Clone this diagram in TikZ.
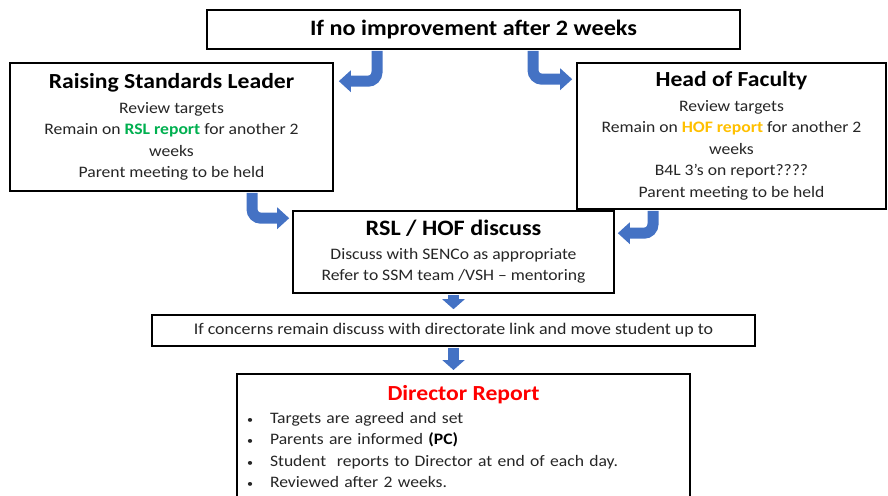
\documentclass[tikz,border=0pt]{standalone}
\usepackage{fontspec}
\setmainfont{Carlito}[FakeStretch=1.1]
\usetikzlibrary{arrows.meta}
\definecolor{flowblue}{RGB}{68,114,196}
\definecolor{rslgreen}{RGB}{0,176,80}
\definecolor{hofamber}{RGB}{255,192,0}
\definecolor{dirred}{RGB}{255,0,0}
\newcommand{\bodysize}{\fontsize{16}{21.5}\selectfont}
\newcommand{\headsize}{\fontsize{21.5}{22}\selectfont}
\newcommand{\bigsize}{\fontsize{22}{24}\selectfont}
\newcommand{\dirbullet}[1]{\makebox[\linewidth][l]{\hspace{10pt}{\fontsize{11}{11}\selectfont\textbullet}\hspace{17pt}#1}}

\begin{document}
\begin{tikzpicture}[x=1pt, y=-1pt,
    every node/.style={font=\bodysize, text=black!85},
    stagebox/.style={draw=black, line width=1.6pt, fill=white, align=center, inner sep=0pt},
    bendarrow/.style={draw=flowblue, line width=11pt, rounded corners=9pt, -{Triangle[length=12pt, width=21pt]}},
    downarrow/.style={draw=flowblue, line width=11pt, -{Triangle[length=10pt, width=22pt]}}]

  \useasboundingbox (0,0) rectangle (888,495);
  \clip (0,0) rectangle (888,495);

  % trigger at the top
  \node[stagebox, minimum width=533pt, minimum height=39pt] (trigger) at (473.5,29.5)
    {\fontsize{22}{24}\selectfont\bfseries\color{black}If no improvement after 2 weeks};

  % the two report routes
  \node[stagebox, minimum width=323pt, minimum height=128pt] (rsl) at (171.5,127)
    {{\headsize\bfseries\color{black}Raising Standards Leader}\\[3pt]
     Review targets\\
     Remain on {\bfseries\color{rslgreen}RSL report} for another 2\\
     weeks\\
     Parent meeting to be held};
  \node[stagebox, minimum width=309pt, minimum height=146pt] (hof) at (731.5,136)
    {{\headsize\bfseries\color{black}Head of Faculty}\\[3pt]
     Review targets\\
     Remain on {\bfseries\color{hofamber}HOF report} for another 2\\
     weeks\\
     B4L 3’s on report????\\
     Parent meeting to be held};

  % joint discussion
  \node[stagebox, minimum width=321pt, minimum height=82pt] (disc) at (453.5,252)
    {{\bigsize\bfseries\color{black}RSL / HOF discuss}\\[2pt]
     Discuss with SENCo as appropriate\\
     Refer to SSM team /VSH -- mentoring};
  \node[stagebox, minimum width=603pt, minimum height=31pt] (concerns) at (453.5,330.5)
    {\fontsize{16.3}{21.5}\selectfont If concerns remain discuss with directorate link and move student up to};

  % director report
  \node[stagebox, anchor=north, text width=453pt, inner ysep=12pt] (director) at (463.5,373)
    {{\fontsize{21.5}{24}\selectfont\bfseries\color{dirred}Director Report}\\[1pt]
     \dirbullet{Targets are agreed and set}\\
     \dirbullet{Parents are informed {\bfseries\color{black}(PC)}}\\
     \dirbullet{Student\ \ reports to Director at end of each day.}\\
     \dirbullet{Reviewed after 2 weeks.}\\
     \mbox{}};

  % connectors
  \draw[bendarrow] ([xshift=-96.5pt,yshift=-1pt]trigger.south) |- ([xshift=5pt,yshift=-19pt]rsl.north east);
  \draw[bendarrow] ([xshift=59.5pt,yshift=-1pt]trigger.south) |- ([xshift=-4pt,yshift=-17pt]hof.north west);
  \draw[bendarrow] ([xshift=80.5pt,yshift=-1pt]rsl.south) |- ([xshift=-3pt,yshift=-8pt]disc.north west);
  \draw[bendarrow] ([xshift=-78.5pt,yshift=-1pt]hof.south) |- ([xshift=3pt,yshift=-23pt]disc.north east);
  \draw[downarrow] ([yshift=-1pt]disc.south) -- ([yshift=5pt]concerns.north);
  \draw[downarrow] ([yshift=-1pt]concerns.south) -- ([yshift=3pt]director.north -| concerns.south);
\end{tikzpicture}
\end{document}
